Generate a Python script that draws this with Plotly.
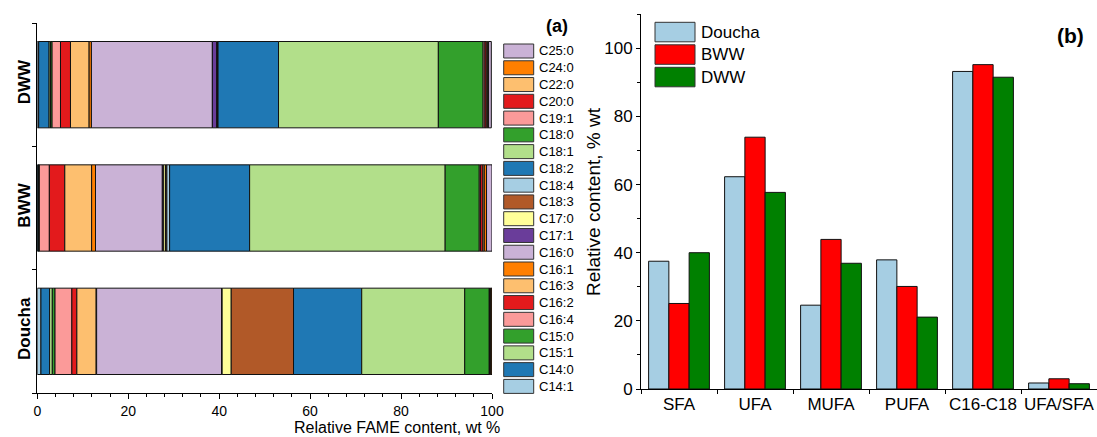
import numpy as np
import plotly.graph_objects as go

# ---------------- data ----------------
samples = ["Doucha", "BWW", "DWW"]
acids = ["C14:1", "C14:0", "C15:1", "C15:0", "C16:4", "C16:2", "C16:3", "C16:1",
         "C16:0", "C17:1", "C17:0", "C18:3", "C18:4", "C18:2", "C18:1", "C18:0",
         "C19:1", "C20:0", "C22:0", "C24:0", "C25:0"]
doucha = [0.8, 1.9, 0.6, 0.6, 3.7, 1.1, 4.25, 0.1, 27.5, 0.1, 2.0, 13.7, 0.0, 15.0,
          22.65, 5.4, 0.1, 0.1, 0.1, 0.3, 0.0]
bww = [0.1, 0.2, 0.05, 0.1, 2.2, 3.4, 5.9, 0.85, 14.7, 0.3, 0.4, 0.3, 0.6, 17.6,
       43.0, 7.5, 0.3, 0.5, 0.3, 0.5, 1.2]
dww = [0.3, 2.3, 0.3, 0.35, 1.85, 2.2, 4.1, 0.5, 26.6, 0.95, 0.1, 0.1, 0.1, 13.3,
       35.15, 9.85, 0.4, 0.3, 0.3, 0.2, 0.6]
acid_colors = ["#a6cee3", "#1f78b4", "#b2df8a", "#33a02c", "#fb9a99", "#e31a1c",
               "#fdbf6f", "#ff7f00", "#cab2d6", "#6a3d9a", "#ffff99", "#b15928",
               "#a6cee3", "#1f78b4", "#b2df8a", "#33a02c", "#fb9a99", "#e31a1c",
               "#fdbf6f", "#ff7f00", "#cab2d6"]

groups = ["SFA", "UFA", "MUFA", "PUFA", "C16-C18", "UFA/SFA"]
doucha_sum = [37.5, 62.3, 24.6, 37.9, 93.2, 1.76]
bww_sum = [25.1, 73.9, 43.9, 30.1, 95.2, 3.0]
dww_sum = [40.0, 57.7, 36.9, 21.1, 91.5, 1.55]
group_series = ["Doucha", "BWW", "DWW"]
group_colors = ["#a6cee3", "#ff0000", "#008000"]

# ---------------- figure ----------------
W, H = 1097, 437
FONT = "Arial, Liberation Sans, sans-serif"


def px(x):
    return x / W


def py(y):
    return 1 - y / H


fig = go.Figure()

comp = np.array([doucha, bww, dww])  # samples x acids
bases = np.cumsum(comp, axis=1) - comp
for j, acid in enumerate(acids):
    fig.add_trace(go.Bar(
        x=comp[:, j], y=samples, base=bases[:, j], orientation="h",
        width=0.7, offset=-0.35, name=acid,
        marker=dict(color=acid_colors[j], line=dict(color="#111111", width=1)),
        xaxis="x", yaxis="y", showlegend=False))

for vals, name, col in zip([doucha_sum, bww_sum, dww_sum], group_series, group_colors):
    fig.add_trace(go.Bar(
        x=groups, y=vals, name=name,
        marker=dict(color=col, line=dict(color="#111111", width=1)),
        xaxis="x2", yaxis="y2", showlegend=False))

axis_common = dict(showline=True, linecolor="#000", linewidth=1, showgrid=False,
                   zeroline=False, ticks="outside", tickcolor="#000",
                   mirror=False, automargin=False)

fig.update_layout(
    width=W, height=H,
    margin=dict(l=0, r=0, t=0, b=0),
    paper_bgcolor="white", plot_bgcolor="white",
    font=dict(family=FONT, color="#000"),
    barmode="group", bargap=0.2, bargroupgap=0,
    xaxis=dict(domain=[px(37.3), px(492)], range=[0, 100], dtick=20, ticklen=5,
               tickfont=dict(size=14), anchor="y",
               minor=dict(dtick=4, ticks="outside", ticklen=3, tickcolor="#000"),
               **axis_common),
    yaxis=dict(domain=[py(393), py(23)], type="category",
               categoryorder="array", categoryarray=samples,
               range=[-0.5, 2.5], tickson="boundaries", ticklen=4,
               tickangle=-90, tickfont=dict(size=17, weight="bold"),
               anchor="x", **axis_common),
    xaxis2=dict(domain=[px(641), 1.0], type="category",
                categoryorder="array", categoryarray=groups,
                range=[-0.5, 5.5], tickson="boundaries", ticklen=4,
                tickangle=0, tickfont=dict(size=17), anchor="y2", **axis_common),
    yaxis2=dict(domain=[py(389), py(14.2)], range=[0, 110], dtick=20, ticklen=4,
                tickfont=dict(size=17), anchor="x2",
                minor=dict(dtick=10, ticks="outside", ticklen=3, tickcolor="#000"),
                **axis_common),
)

shapes = []
annotations = []

# left legend (top: C25:0 ... bottom: C14:1)
for k, j in enumerate(range(len(acids) - 1, -1, -1)):
    top = 44 + 16.77 * k
    shapes.append(dict(type="rect", xref="paper", yref="paper",
                       x0=px(503.7), x1=px(533.7), y0=py(top + 14), y1=py(top),
                       fillcolor=acid_colors[j], line=dict(color="#333", width=1)))
    annotations.append(dict(text=acids[j], xref="paper", yref="paper",
                            x=px(537), y=py(top + 7), xanchor="left", yanchor="middle",
                            showarrow=False, font=dict(size=13)))

# right legend
for k, (name, col) in enumerate(zip(group_series, group_colors)):
    top = 22.3 + 22.5 * k
    shapes.append(dict(type="rect", xref="paper", yref="paper",
                       x0=px(655), x1=px(695), y0=py(top + 19.5), y1=py(top),
                       fillcolor=col, line=dict(color="#333", width=1)))
    annotations.append(dict(text=name, xref="paper", yref="paper",
                            x=px(699), y=py(top + 10), xanchor="left", yanchor="middle",
                            showarrow=False, font=dict(size=17)))

annotations.append(dict(text="Relative FAME content, wt %", xref="paper", yref="paper",
                        x=px(502), y=py(427), xanchor="right", yanchor="middle",
                        showarrow=False, font=dict(size=16)))
annotations.append(dict(text="Relative content, % wt", xref="paper", yref="paper",
                        x=px(593), y=py(202), xanchor="center", yanchor="middle",
                        textangle=-90, showarrow=False, font=dict(size=19)))
annotations.append(dict(text="<b>(a)</b>", xref="paper", yref="paper",
                        x=px(557), y=py(26), xanchor="center", yanchor="middle",
                        showarrow=False, font=dict(size=18)))
annotations.append(dict(text="<b>(b)</b>", xref="paper", yref="paper",
                        x=px(1070), y=py(36), xanchor="center", yanchor="middle",
                        showarrow=False, font=dict(size=21)))

fig.update_layout(shapes=shapes, annotations=annotations)

fig.write_html(
    "out.html",
    config={"displayModeBar": False},
    post_script="document.body.style.margin='0';document.body.style.overflow='hidden';",
)
